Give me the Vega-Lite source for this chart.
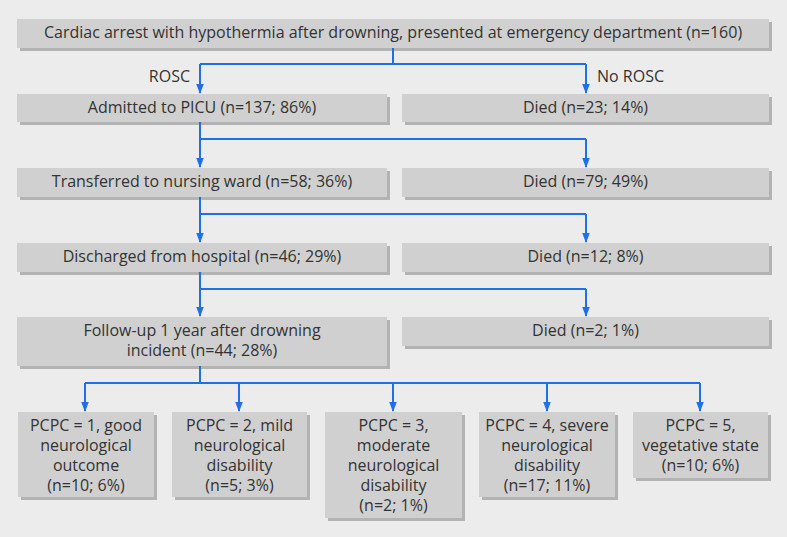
{
  "$schema": "https://vega.github.io/schema/vega-lite/v6.json",
  "width": 787,
  "height": 537,
  "autosize": "none",
  "padding": 0,
  "background": "#ececec",
  "config": {"view": {"stroke": null}},
  "datasets": {
    "nodes": [
      {"id": "start", "x1": 17, "x2": 769, "y1": 19, "y2": 48, "label": "Cardiac arrest with hypothermia after drowning, presented at emergency department (n=160)"},
      {"id": "picu", "x1": 17, "x2": 387, "y1": 94, "y2": 122, "label": "Admitted to PICU (n=137; 86%)"},
      {"id": "died1", "x1": 402, "x2": 769, "y1": 94, "y2": 122, "label": "Died (n=23; 14%)"},
      {"id": "ward", "x1": 17, "x2": 387, "y1": 168, "y2": 197, "label": "Transferred to nursing ward (n=58; 36%)"},
      {"id": "died2", "x1": 402, "x2": 769, "y1": 168, "y2": 197, "label": "Died (n=79; 49%)"},
      {"id": "disch", "x1": 17, "x2": 387, "y1": 243, "y2": 272, "label": "Discharged from hospital (n=46; 29%)"},
      {"id": "died3", "x1": 402, "x2": 769, "y1": 243, "y2": 272, "label": "Died (n=12; 8%)"},
      {"id": "follow", "x1": 17, "x2": 387, "y1": 317, "y2": 366, "label": "Follow-up 1 year after drowning\nincident (n=44; 28%)"},
      {"id": "died4", "x1": 402, "x2": 769, "y1": 317, "y2": 346, "label": "Died (n=2; 1%)"},
      {"id": "p1", "x1": 18, "x2": 154, "y1": 412, "y2": 497, "label": "PCPC = 1, good\nneurological\noutcome\n(n=10; 6%)"},
      {"id": "p2", "x1": 172, "x2": 307, "y1": 412, "y2": 497, "label": "PCPC = 2, mild\nneurological\ndisability\n(n=5; 3%)"},
      {"id": "p3", "x1": 325, "x2": 462, "y1": 412, "y2": 518, "label": "PCPC = 3,\nmoderate\nneurological\ndisability\n(n=2; 1%)"},
      {"id": "p4", "x1": 479, "x2": 615, "y1": 412, "y2": 497, "label": "PCPC = 4, severe\nneurological\ndisability\n(n=17; 11%)"},
      {"id": "p5", "x1": 633, "x2": 768, "y1": 412, "y2": 478, "label": "PCPC = 5,\nvegetative state\n(n=10; 6%)"}
    ],
    "edges": [
      {"xa": 393, "ya": 48, "xb": 393, "yb": 64},
      {"xa": 200, "ya": 64, "xb": 586, "yb": 64},
      {"xa": 200, "ya": 64, "xb": 200, "yb": 93},
      {"xa": 586, "ya": 64, "xb": 586, "yb": 93},
      {"xa": 200, "ya": 122, "xb": 200, "yb": 167},
      {"xa": 200, "ya": 139, "xb": 586, "yb": 139},
      {"xa": 586, "ya": 139, "xb": 586, "yb": 167},
      {"xa": 200, "ya": 197, "xb": 200, "yb": 242},
      {"xa": 200, "ya": 214, "xb": 586, "yb": 214},
      {"xa": 586, "ya": 214, "xb": 586, "yb": 242},
      {"xa": 200, "ya": 272, "xb": 200, "yb": 316},
      {"xa": 200, "ya": 289, "xb": 586, "yb": 289},
      {"xa": 586, "ya": 289, "xb": 586, "yb": 316},
      {"xa": 200, "ya": 366, "xb": 200, "yb": 383},
      {"xa": 85, "ya": 383, "xb": 700, "yb": 383},
      {"xa": 85, "ya": 383, "xb": 85, "yb": 411},
      {"xa": 239, "ya": 383, "xb": 239, "yb": 411},
      {"xa": 393, "ya": 383, "xb": 393, "yb": 411},
      {"xa": 547, "ya": 383, "xb": 547, "yb": 411},
      {"xa": 700, "ya": 383, "xb": 700, "yb": 411}
    ],
    "arrows": [
      {"x": 200, "y": 94}, {"x": 586, "y": 94},
      {"x": 200, "y": 168}, {"x": 586, "y": 168},
      {"x": 200, "y": 243}, {"x": 586, "y": 243},
      {"x": 200, "y": 317}, {"x": 586, "y": 317},
      {"x": 85, "y": 412}, {"x": 239, "y": 412}, {"x": 393, "y": 412}, {"x": 547, "y": 412}, {"x": 700, "y": 412}
    ],
    "labels": [
      {"x": 190, "y": 77, "text": "ROSC", "align": "right"},
      {"x": 597, "y": 77, "text": "No ROSC", "align": "left"}
    ]
  },
  "layer": [
    {
      "data": {"name": "nodes"},
      "mark": {"type": "rect", "color": "#b3b3b3", "xOffset": 3, "x2Offset": 3, "yOffset": 3, "y2Offset": 3},
      "encoding": {
        "x": {"field": "x1", "type": "quantitative", "scale": {"domain": [0, 787], "nice": false, "zero": false}, "axis": null},
        "x2": {"field": "x2"},
        "y": {"field": "y1", "type": "quantitative", "scale": {"domain": [0, 537], "nice": false, "zero": false, "reverse": true}, "axis": null},
        "y2": {"field": "y2"}
      }
    },
    {
      "data": {"name": "nodes"},
      "mark": {"type": "rect", "color": "#d0d0d0"},
      "encoding": {
        "x": {"field": "x1", "type": "quantitative"},
        "x2": {"field": "x2"},
        "y": {"field": "y1", "type": "quantitative"},
        "y2": {"field": "y2"}
      }
    },
    {
      "data": {"name": "nodes"},
      "transform": [
        {"calculate": "(datum.x1 + datum.x2) / 2", "as": "cx"}
      ],
      "mark": {"type": "text", "font": "Open Sans", "fontSize": 16, "color": "#333333", "align": "center", "baseline": "middle", "lineBreak": "\n", "lineHeight": 20, "dy": 14},
      "encoding": {
        "x": {"field": "cx", "type": "quantitative"},
        "y": {"field": "y1", "type": "quantitative"},
        "text": {"field": "label"}
      }
    },
    {
      "data": {"name": "edges"},
      "mark": {"type": "rule", "color": "#1f6fe6", "strokeWidth": 2},
      "encoding": {
        "x": {"field": "xa", "type": "quantitative"},
        "y": {"field": "ya", "type": "quantitative"},
        "x2": {"field": "xb"},
        "y2": {"field": "yb"}
      }
    },
    {
      "data": {"name": "arrows"},
      "mark": {"type": "point", "shape": "M-0.75,-2L0.75,-2L0,0Z", "size": 100, "filled": true, "color": "#1f6fe6", "opacity": 1, "strokeWidth": 0},
      "encoding": {
        "x": {"field": "x", "type": "quantitative"},
        "y": {"field": "y", "type": "quantitative"}
      }
    },
    {
      "data": {"name": "labels"},
      "transform": [{"filter": "datum.align == 'right'"}],
      "mark": {"type": "text", "font": "Open Sans", "fontSize": 16, "color": "#333333", "align": "right", "baseline": "middle"},
      "encoding": {
        "x": {"field": "x", "type": "quantitative"},
        "y": {"field": "y", "type": "quantitative"},
        "text": {"field": "text"}
      }
    },
    {
      "data": {"name": "labels"},
      "transform": [{"filter": "datum.align == 'left'"}],
      "mark": {"type": "text", "font": "Open Sans", "fontSize": 16, "color": "#333333", "align": "left", "baseline": "middle"},
      "encoding": {
        "x": {"field": "x", "type": "quantitative"},
        "y": {"field": "y", "type": "quantitative"},
        "text": {"field": "text"}
      }
    }
  ]
}
